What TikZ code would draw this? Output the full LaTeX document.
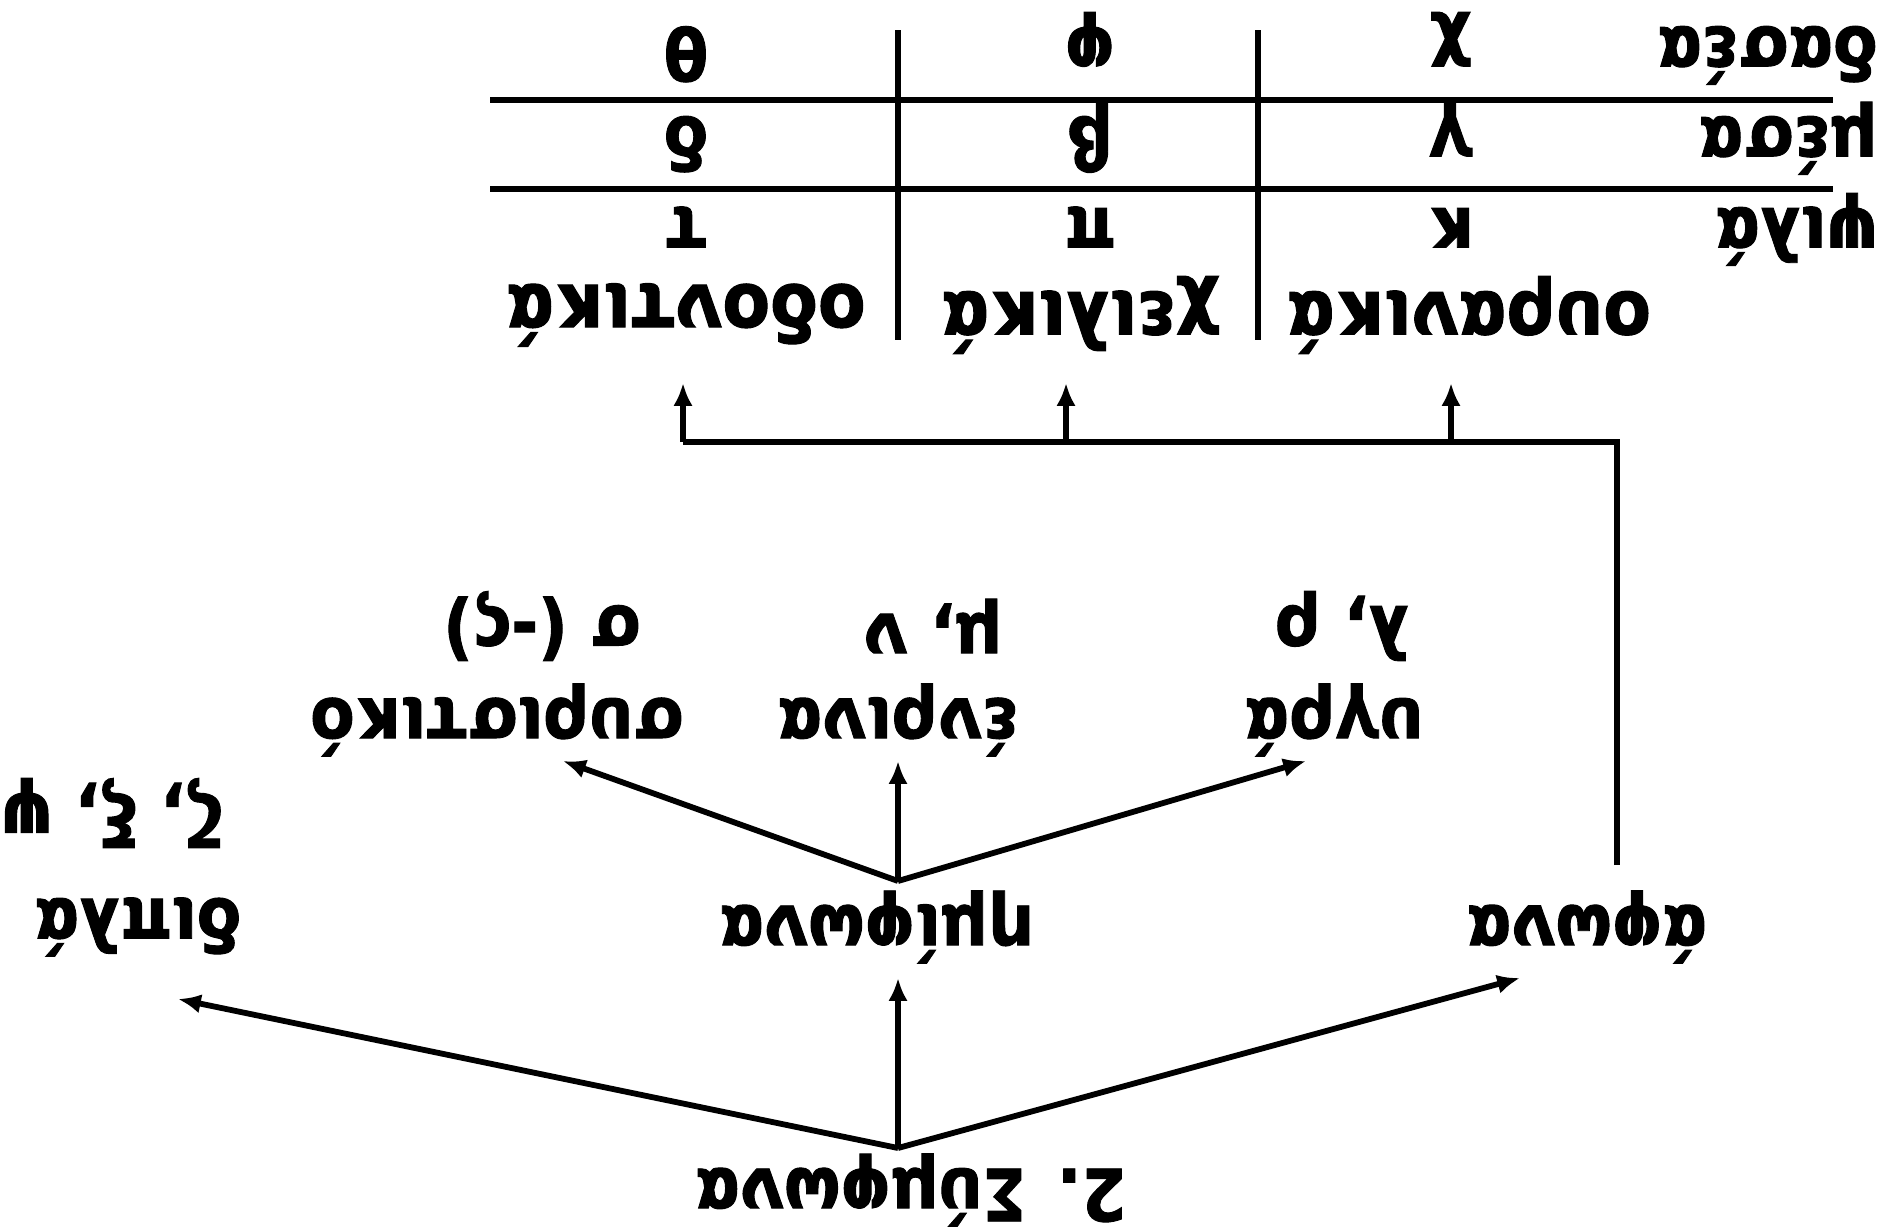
\documentclass[tikz,border=0pt]{standalone}
\usepackage{fontspec}
\setmainfont{DejaVu Sans Condensed}[BoldFeatures={FakeBold=1.3}]
\usetikzlibrary{arrows.meta}
\tikzset{
  lbl/.style={rotate=180, inner sep=0pt, font=\bfseries\fontsize{41}{48}\selectfont},
  headlbl/.style={lbl, font=\bfseries\fontsize{44}{50}\selectfont},
  conn/.style={line width=3.3pt},
  tabline/.style={line width=3.6pt},
  arr/.style={conn, -{Latex[length=13pt,width=11pt]}},
}
\begin{document}
\begin{tikzpicture}[x=0.02cm, y=-0.02cm]
\useasboundingbox (0,0) rectangle (1888,1231);
% tree of consonants
\node[lbl] (root) at (911,1190) {2. Σύμφωνα};
\node[lbl] (dipla) at (138,927) {διπλά};
\node[lbl] (imifona) at (877,927) {ημίφωνα};
\node[lbl] (afona) at (1587,927) {άφωνα};
\node[lbl] (zxps) at (112,813) {ζ, ξ, ψ};
\node[lbl] (syr) at (497,720) {συριστικό};
\node[lbl] (enr) at (898,720) {ένρινα};
\node[lbl] (ygr) at (1334,720) {υγρά};
\node[lbl] (sigma) at (542,626) {σ (-ς)};
\node[lbl] (mn) at (933,626) {μ, ν};
\node[lbl] (lr) at (1342,626) {λ, ρ};
\coordinate (rootfork) at (898,1148);
\coordinate (dipla-in) at (178,999);
\coordinate (imifona-in) at (898,978);
\coordinate (afona-in) at (1520,978);
\coordinate (imifork) at (898,881);
\coordinate (syr-in) at (563,761);
\coordinate (enr-in) at (898,761);
\coordinate (ygr-in) at (1306,761);
\draw[arr] (rootfork) -- (dipla-in);
\draw[arr] (rootfork) -- (imifona-in);
\draw[arr] (rootfork) -- (afona-in);
\draw[arr] (imifork) -- (syr-in);
\draw[arr] (imifork) -- (enr-in);
\draw[arr] (imifork) -- (ygr-in);
% table of stops
\node[headlbl] (odont) at (686,315) {οδοντικά};
\node[headlbl] (cheil) at (1081,315) {χειλικά};
\node[headlbl] (ouran) at (1469,315) {ουρανικά};
\node[lbl, anchor=base west] (psila) at (1878,208) {ψιλά};
\node[lbl, anchor=base west] (mesa) at (1878,117) {μέσα};
\node[lbl, anchor=base west] (dasea) at (1878,27) {δασέα};
\foreach \x/\n/\a/\b/\c in {686/t/τ/δ/θ, 1090/p/π/β/φ, 1451/k/κ/γ/χ} {
  \node[lbl, anchor=base] (psila-\n) at (\x,208) {\a};
  \node[lbl, anchor=base] (mesa-\n) at (\x,117) {\b};
  \node[lbl, anchor=base] (dasea-\n) at (\x,27) {\c};
}
\draw[tabline] (490,100) -- (1833,100);
\draw[tabline] (490,189) -- (1833,189);
\draw[tabline] (898,30) -- (898,340);
\draw[tabline] (1258,30) -- (1258,340);
% stops branch
\coordinate (afona-out) at (1617,865);
\coordinate (stopbend) at (1617,442);
\coordinate (stopleft) at (683,442);
\draw[conn] (afona-out) -- (stopbend) -- (stopleft);
\draw[arr] (stopleft) -- (683,383);
\draw[arr] (1066,442) -- (1066,383);
\draw[arr] (1451,442) -- (1451,383);
\end{tikzpicture}
\end{document}
